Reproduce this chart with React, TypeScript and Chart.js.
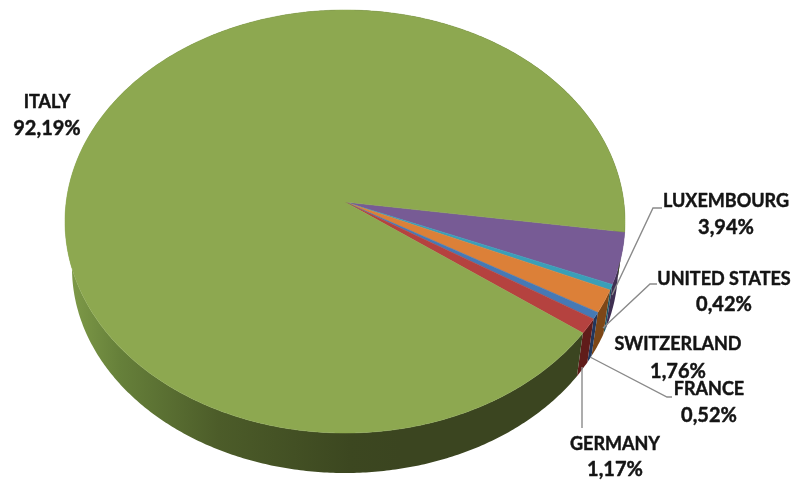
import React, { useEffect, useRef } from "react";
import { Chart, registerables } from "chart.js";

Chart.register(...registerables);

const categories = ["LUXEMBOURG", "UNITED STATES", "SWITZERLAND", "FRANCE", "GERMANY", "ITALY"];
const shares = [3.94, 0.42, 1.76, 0.52, 1.17, 92.19];

const topColors = ["#775b95", "#3a9fb8", "#dc8038", "#4679b5", "#b5423f", "#8da850"];
const sideColors = ["#3f2f52", "#1d5565", "#7d4717", "#21365c", "#601c1a", "#3c4720"];

const labelAnchors = [
  [726, 201, 228],
  [724, 279, 305],
  [678, 344, 372],
  [709, 389, 416],
  [615, 444, 470],
  [47, 102, 129],
];
const leaders: (number[][] | null)[] = [
  [[662, 208], [653, 208], [612, 295]],
  [[657, 284], [650, 284], [603, 328]],
  null,
  [[672, 397], [667, 397], [590, 357]],
  [[582, 428], [582, 367]],
  null,
];

const topEllipse = { cx: 345, cy: 221.5, rx: 280, ry: 211.5 };
const baseEllipse = { cx: 345, cy: 268, rx: 273, ry: 205 };
const tilt = -0.092;
const scaleS = Math.sqrt(1 - tilt * tilt);

type Ellipse = typeof topEllipse;

function project(t: number, e: Ellipse) {
  const u = Math.cos(t);
  const v = Math.sin(t);
  const d = 1 + tilt * v;
  return [e.cx + (e.rx * u * scaleS) / d, e.cy + (e.ry * (v + tilt)) / d];
}

function arcPoints(start: number, end: number, e: Ellipse) {
  const n = Math.max(2, Math.ceil(Math.abs(end - start) / 0.01));
  const pts: number[][] = [];
  for (let i = 0; i <= n; i++) pts.push(project(start + ((end - start) * i) / n, e));
  return pts;
}

const pie3d = {
  id: "pie3d",
  beforeDatasetsDraw(chart: any) {
    const ctx: CanvasRenderingContext2D = chart.ctx;
    const arcs = chart.getDatasetMeta(0).data;

    // extruded side walls
    arcs.forEach((arc: any, i: number) => {
      const top = arcPoints(arc.startAngle, arc.endAngle, topEllipse);
      const base = arcPoints(arc.startAngle, arc.endAngle, baseEllipse).reverse();
      ctx.beginPath();
      [...top, ...base].forEach((p, k) => (k ? ctx.lineTo(p[0], p[1]) : ctx.moveTo(p[0], p[1])));
      ctx.closePath();
      if (i === arcs.length - 1) {
        const g = ctx.createLinearGradient(70, 0, 400, 0);
        g.addColorStop(0, "#7e9a48");
        g.addColorStop(0.15, "#66803a");
        g.addColorStop(0.45, "#4c5c29");
        g.addColorStop(0.85, "#3c4720");
        g.addColorStop(1, "#3b4520");
        ctx.fillStyle = g;
      } else {
        ctx.fillStyle = sideColors[i];
      }
      ctx.fill();
    });

    // top face
    const apex = [topEllipse.cx, topEllipse.cy + topEllipse.ry * tilt];
    arcs.forEach((arc: any, i: number) => {
      ctx.beginPath();
      ctx.moveTo(apex[0], apex[1]);
      arcPoints(arc.startAngle, arc.endAngle, topEllipse).forEach((p) => ctx.lineTo(p[0], p[1]));
      ctx.closePath();
      ctx.fillStyle = topColors[i];
      ctx.fill();
      ctx.strokeStyle = topColors[i];
      ctx.lineWidth = 0.5;
      ctx.stroke();
    });

    // leader lines
    ctx.strokeStyle = "#8a8a8a";
    ctx.lineWidth = 1.4;
    leaders.forEach((line) => {
      if (!line) return;
      ctx.beginPath();
      line.forEach((p, k) => (k ? ctx.lineTo(p[0], p[1]) : ctx.moveTo(p[0], p[1])));
      ctx.stroke();
    });

    // labels
    ctx.fillStyle = "#141414";
    ctx.strokeStyle = "#141414";
    ctx.lineWidth = 0.45;
    ctx.lineJoin = "round";
    ctx.textAlign = "center";
    ctx.textBaseline = "middle";
    categories.forEach((name, i) => {
      const [x, y1, y2] = labelAnchors[i];
      ctx.font = "bold 18px Lato";
      ctx.fillText(name, x, y1);
      ctx.strokeText(name, x, y1);
      const pct = shares[i].toFixed(2).replace(".", ",") + "%";
      ctx.font = "bold 20px Lato";
      ctx.fillText(pct, x, y2);
      ctx.strokeText(pct, x, y2);
    });
    return false;
  },
};

export default function App() {
  const ref = useRef<HTMLCanvasElement>(null);
  useEffect(() => {
    if (!ref.current) return;
    const chart = new Chart(ref.current, {
      type: "pie",
      data: {
        labels: categories,
        datasets: [{ data: shares, backgroundColor: topColors, borderWidth: 0 }],
      },
      options: {
        animation: false,
        responsive: false,
        rotation: 98.1,
        plugins: { legend: { display: false }, tooltip: { enabled: false } },
      },
      plugins: [pie3d],
    } as any);
    return () => chart.destroy();
  }, []);
  return (
    <div style={{ position: "fixed", left: 0, top: 0, width: 794, height: 480, background: "#fff" }}>
      <canvas ref={ref} width={794} height={480} style={{ display: "block" }} />
    </div>
  );
}
